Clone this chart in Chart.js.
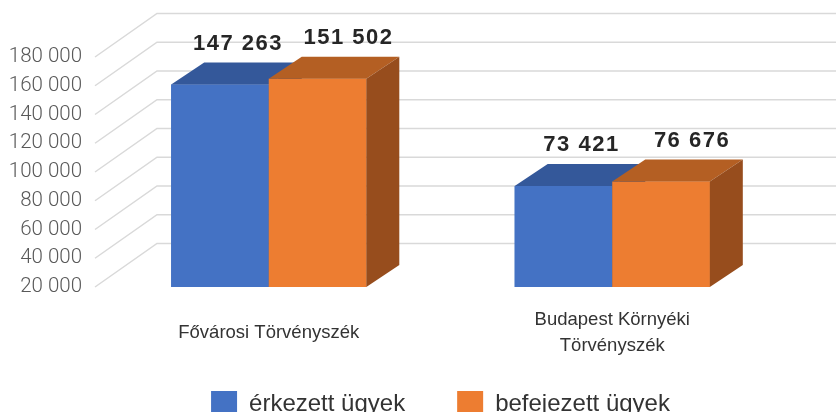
<!DOCTYPE html>
<html>
<head>
<meta charset="utf-8">
<script src="https://cdn.jsdelivr.net/npm/chart.js@4.4.1/dist/chart.umd.min.js"></script>
<style>
  html, body { margin: 0; padding: 0; background: #fff; overflow: hidden; }
  #wrap { width: 836px; height: 427px; position: relative; }
</style>
</head>
<body>
<div id="wrap"><canvas id="chart"></canvas></div>
<script>
// Adatok
const categories = ['Fővárosi Törvényszék', ['Budapest Környéki', 'Törvényszék']];
const seriesNames = ['érkezett ügyek', 'befejezett ügyek'];
const erkezett = [147263, 73421];
const befejezett = [151502, 76676];
const tickValues = [20000, 40000, 60000, 80000, 100000, 120000, 140000, 160000, 180000];

// Színek: elülső lap, tető, oldal
const frontColors = ['#4472C4', '#ED7D31'];
const topColors = ['#34589A', '#B45F23'];
const sideColors = ['#2B4A80', '#974D1D'];

const BAR_DX = 33, BAR_DY = 22;      // oszlopok mélysége
const WALL_DX = 62, WALL_DY = 43.5;  // háttérfal mélysége
const labelShift = [18, 31];

const fmt = (n) => String(n).replace(/\B(?=(\d{3})+(?!\d))/g, ' ');

// 3D hatás: rácsvonalak a falon, oszlopok teteje és oldala, értékcímkék
const bars3d = {
    id: 'bars3d',
    afterLayout(chart) {
        // a kétsoros kategóriafelirat ne vágódjon le
        chart.scales.x.bottom = chart.height;
    },
    beforeDatasetsDraw(chart) {
        const { ctx, chartArea } = chart;
        const yl = chart.scales.yl;
        ctx.save();
        ctx.strokeStyle = '#d9d9d9';
        ctx.lineWidth = 1.5;
        yl.ticks.forEach(t => {
            const yF = yl.getPixelForValue(t.value);
            const xF = chartArea.left - 2;
            const xB = xF + WALL_DX, yB = yF - WALL_DY;
            ctx.beginPath();
            ctx.moveTo(xF, yF);
            ctx.lineTo(xB, yB);
            ctx.lineTo(chart.width, yB);
            ctx.stroke();
        });
        ctx.restore();
    },
    afterDatasetsDraw(chart) {
        const { ctx } = chart;
        const nSets = chart.data.datasets.length;
        ctx.save();
        categories.forEach((_, i) => {
            for (let d = 0; d < nSets; d++) {
                const bar = chart.getDatasetMeta(d).data[i];
                const { x, y, base, width } = bar.getProps(['x', 'y', 'base', 'width'], true);
                const l = x - width / 2, r = x + width / 2;
                ctx.fillStyle = frontColors[d];
                ctx.fillRect(l, y, width, base - y);
                ctx.fillStyle = topColors[d];
                ctx.beginPath();
                ctx.moveTo(l, y);
                ctx.lineTo(r, y);
                ctx.lineTo(r + BAR_DX, y - BAR_DY);
                ctx.lineTo(l + BAR_DX, y - BAR_DY);
                ctx.closePath();
                ctx.fill();
                ctx.fillStyle = sideColors[d];
                ctx.beginPath();
                ctx.moveTo(r, y);
                ctx.lineTo(r + BAR_DX, y - BAR_DY);
                ctx.lineTo(r + BAR_DX, base - BAR_DY);
                ctx.lineTo(r, base);
                ctx.closePath();
                ctx.fill();
            }
        });
        ctx.font = 'bold 22px "Liberation Sans", Arial, sans-serif';
        ctx.letterSpacing = '1.5px';
        ctx.fillStyle = '#262626';
        ctx.textAlign = 'center';
        ctx.textBaseline = 'middle';
        chart.data.datasets.forEach((ds, d) => {
            chart.getDatasetMeta(d).data.forEach((bar, i) => {
                ctx.fillText(fmt(ds.data[i]), bar.x + labelShift[d], bar.y - BAR_DY - 19);
            });
        });
        ctx.restore();
    }
};

new Chart(document.getElementById('chart'), {
    type: 'bar',
    data: {
        labels: categories,
        datasets: [
            { label: seriesNames[0], data: erkezett, backgroundColor: frontColors[0] },
            { label: seriesNames[1], data: befejezett, backgroundColor: frontColors[1] }
        ]
    },
    options: {
        responsive: true,
        maintainAspectRatio: false,
        animation: false,
        layout: { padding: { top: 12, left: 0, right: 52, bottom: 0 } },
        datasets: { bar: { categoryPercentage: 0.568, barPercentage: 1 } },
        plugins: {
            legend: {
                position: 'bottom',
                fullSize: false,
                labels: {
                    boxWidth: 26,
                    boxHeight: 26,
                    padding: 52,
                    color: '#333333',
                    font: { family: '"Liberation Sans", Arial, sans-serif', size: 24 }
                }
            },
            tooltip: { enabled: false }
        },
        scales: {
            x: {
                grid: { display: false },
                border: { display: false },
                ticks: {
                    color: '#333333',
                    padding: 25,
                    crossAlign: 'center',
                    maxRotation: 0,
                    font: { family: '"Liberation Sans", Arial, sans-serif', size: 18.5, lineHeight: 1.42 }
                },
                afterFit: (scale) => {
                    scale.height = 52;
                    scale.paddingLeft = 0;
                    scale.paddingRight = 0;
                }
            },
            y: { display: false, min: 0, max: 200000 },
            yl: {
                position: 'left',
                min: 20000,
                max: 211300,
                grid: { display: false, drawTicks: false },
                border: { display: false },
                ticks: {
                    padding: 15,
                    color: '#595959',
                    font: { family: 'Roboto, "Liberation Sans", sans-serif', weight: 300, size: 20.5 },
                    callback: (v) => fmt(v)
                },
                afterBuildTicks: (scale) => { scale.ticks = tickValues.map(v => ({ value: v })); },
                afterFit: (scale) => {
                    scale.width = 97;
                    scale.paddingTop = 0;
                    scale.paddingBottom = 0;
                }
            }
        }
    },
    plugins: [bars3d]
});
</script>
</body>
</html>
